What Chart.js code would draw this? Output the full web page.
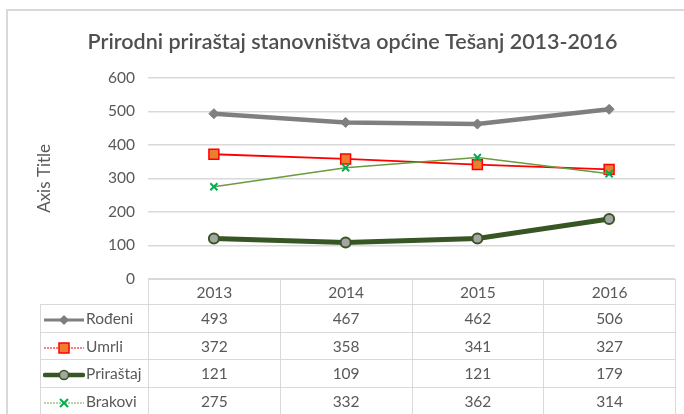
<!DOCTYPE html>
<html>
<head>
<meta charset="utf-8">
<script src="https://cdn.jsdelivr.net/npm/chart.js@4.4.1/dist/chart.umd.min.js"></script>
<style>
  html, body { margin: 0; padding: 0; background: #fff; }
  #wrap { position: relative; width: 684px; height: 414px; overflow: hidden; font-family: Lato, sans-serif; }
  #frame { position: absolute; left: 6px; top: 9px; width: 720px; height: 440px; border-left: 2px solid #d9d9d9; border-top: 2px solid #d9d9d9; }
  #chart { position: absolute; left: 0; top: 0; }
  #tbl { position: absolute; border-collapse: collapse; table-layout: fixed; color: #595959; font-size: 15.5px; }
  #tbl td { border: 1px solid #d9d9d9; text-align: center; padding: 0; white-space: nowrap; }
  #tbl td.blank { border: none; }
  #tbl td.key { text-align: left; padding-left: 2px; }
  #tbl td.key svg { vertical-align: middle; margin-right: 1px; }
</style>
</head>
<body>
<div id="wrap">
  <div id="frame"></div>
  <canvas id="chart" width="684" height="414"></canvas>
  <table id="tbl"></table>
</div>
<script>
(function() {
  'use strict';

  var YEARS = ['2013', '2014', '2015', '2016'];
  var RODENI = [493, 467, 462, 506];
  var UMRLI = [372, 358, 341, 327];
  var PRIRASTAJ = [121, 109, 121, 179];
  var BRAKOVI = [275, 332, 362, 314];
  var Y_TICKS = [0, 100, 200, 300, 400, 500, 600];

  var TEXT = '#595959', GRID = '#d9d9d9';
  var FONT = 'Lato, sans-serif';

  // legend keys for the data table
  var KEYS = {
    'Rođeni': '<line x1="1" y1="7" x2="41" y2="7" stroke="#7f7f7f" stroke-width="3"/>' +
              '<polygon points="21,2 26,7 21,12 16,7" fill="#7f7f7f"/>',
    'Umrli': '<line x1="1" y1="7" x2="41" y2="7" stroke="#ff0000" stroke-width="1.2" stroke-dasharray="2,1"/>' +
             '<rect x="16" y="2" width="10" height="10" fill="#ed7d31" stroke="#ff0000" stroke-width="1.5"/>',
    'Priraštaj': '<line x1="2" y1="7" x2="40" y2="7" stroke="#375623" stroke-width="4.5" stroke-linecap="round"/>' +
                 '<circle cx="21" cy="7" r="4.5" fill="#a5a5a5" stroke="#375623" stroke-width="1.5"/>',
    'Brakovi': '<line x1="1" y1="7" x2="41" y2="7" stroke="#70ad47" stroke-width="1.2" stroke-dasharray="2,1"/>' +
               '<path d="M17,3 L25,11 M25,3 L17,11" stroke="#00b050" stroke-width="2"/>'
  };

  var SERIES = [
    { label: 'Rođeni', data: RODENI },
    { label: 'Umrli', data: UMRLI },
    { label: 'Priraštaj', data: PRIRASTAJ },
    { label: 'Brakovi', data: BRAKOVI }
  ];

  function buildTable() {
    var html = '<tr class="head"><td class="blank"></td>' +
      YEARS.map(function(y) { return '<td>' + y + '</td>'; }).join('') + '</tr>';
    html += SERIES.map(function(s) {
      return '<tr class="row"><td class="key"><svg width="42" height="14">' + KEYS[s.label] + '</svg>' + s.label + '</td>' +
        s.data.map(function(v) { return '<td>' + v + '</td>'; }).join('') + '</tr>';
    }).join('');
    document.getElementById('tbl').innerHTML = html;
  }

  var tablePlugin = {
    id: 'dataTable',
    afterLayout: function(chart) {
      var a = chart.chartArea;
      var bandW = (a.right - a.left) / YEARS.length;
      var left0 = 40;
      var tbl = document.getElementById('tbl');
      tbl.style.left = left0 + 'px';
      tbl.style.top = Math.round(a.bottom) + 'px';
      tbl.style.width = (a.right - left0) + 'px';
      var cols = '<colgroup><col style="width:' + (a.left - left0) + 'px">' +
        YEARS.map(function() { return '<col style="width:' + bandW + 'px">'; }).join('') + '</colgroup>';
      if (!tbl.querySelector('colgroup')) tbl.insertAdjacentHTML('afterbegin', cols);
      var rows = tbl.querySelectorAll('tr');
      rows.forEach(function(r, i) { r.style.height = (i === 0 ? 25 : 27.5) + 'px'; });
    }
  };

  buildTable();

  new Chart(document.getElementById('chart'), {
    type: 'line',
    data: {
      labels: YEARS,
      datasets: [
        { label: 'Rođeni', data: RODENI, order: 3, borderColor: '#7f7f7f', borderWidth: 4.5,
          pointStyle: 'rectRot', pointRadius: 5, pointBackgroundColor: '#7f7f7f', pointBorderColor: '#7f7f7f', pointBorderWidth: 1 },
        { label: 'Umrli', data: UMRLI, order: 2, borderColor: '#ff0000', borderWidth: 1.8,
          pointStyle: 'rect', pointRadius: 7, pointBackgroundColor: '#ed7d31', pointBorderColor: '#ff0000', pointBorderWidth: 1.5 },
        { label: 'Priraštaj', data: PRIRASTAJ, order: 1, borderColor: '#375623', borderWidth: 5,
          pointStyle: 'circle', pointRadius: 5, pointBackgroundColor: '#a5a5a5', pointBorderColor: '#375623', pointBorderWidth: 2 },
        { label: 'Brakovi', data: BRAKOVI, order: 0, borderColor: '#6b9a3f', borderWidth: 1.5,
          pointStyle: 'crossRot', pointRadius: 5, pointBackgroundColor: '#00b050', pointBorderColor: '#00b050', pointBorderWidth: 2 }
      ]
    },
    options: {
      responsive: false, animation: false,
      layout: { padding: { left: 30, right: 9, top: 0, bottom: 127 } },
      plugins: {
        legend: { display: false },
        tooltip: { enabled: false },
        title: { display: true, text: 'Prirodni priraštaj stanovništva općine Tešanj 2013-2016',
          color: '#505050', font: { family: FONT, size: 21.5, weight: '600' }, padding: { top: 29, bottom: 23 } }
      },
      scales: {
        x: { offset: true, ticks: { display: false }, grid: { display: false }, border: { display: false } },
        y: {
          min: 0, max: 600,
          afterBuildTicks: function(s) { s.ticks = Y_TICKS.map(function(v) { return { value: v }; }); },
          afterFit: function(s) { s.width = 118; },
          ticks: { color: TEXT, font: { family: FONT, size: 15.5 }, padding: 13 },
          grid: { color: GRID, lineWidth: 1.5, drawTicks: false },
          border: { display: false },
          title: { display: true, text: 'Axis Title', color: TEXT, font: { family: FONT, size: 17 }, padding: { top: 4 } }
        }
      }
    },
    plugins: [tablePlugin]
  });
})();
</script>
</body>
</html>
